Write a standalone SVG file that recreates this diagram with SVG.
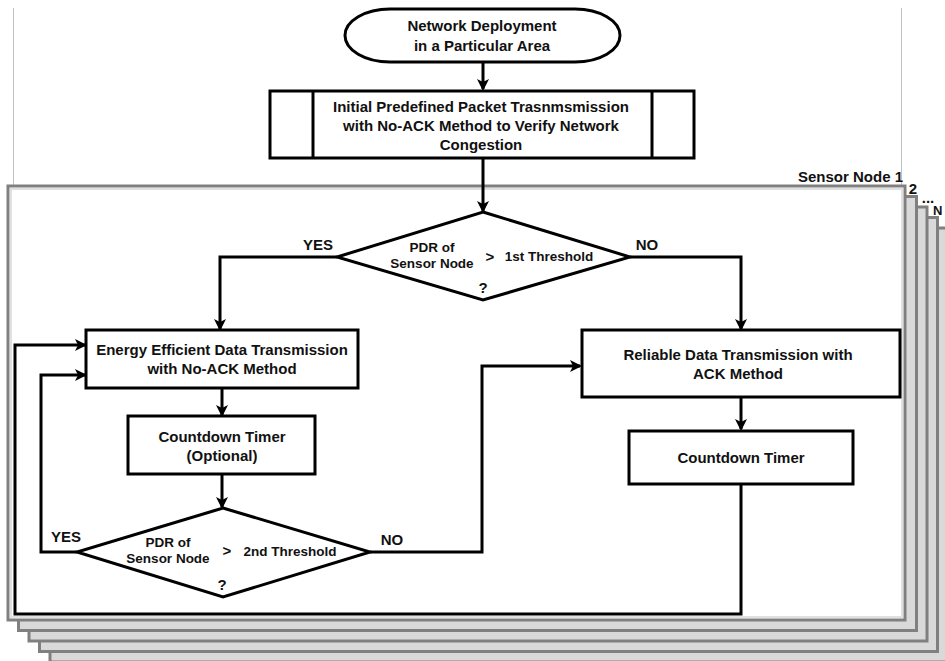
<svg xmlns="http://www.w3.org/2000/svg" width="945" height="661" viewBox="0 0 945 661">
<style>
.t{font-family:"Liberation Sans",Arial,sans-serif;font-weight:bold;font-size:15px;fill:#111;text-anchor:middle}
.s{font-size:13.5px}
.box{fill:#fff;stroke:#000;stroke-width:3}
.stack{fill:#d9d9d9;stroke:#808080;stroke-width:3}
.con{fill:none;stroke:#000;stroke-width:3}
.guide{stroke:#c0c0c0;stroke-width:1}
</style>
<defs>
<marker id="ah" markerWidth="12" markerHeight="12" refX="10" refY="6" orient="auto" markerUnits="userSpaceOnUse">
<path d="M0,0 L12,6 L0,12 L3,6 z" fill="#000"/>
</marker>
</defs>
<rect width="945" height="661" fill="#fff"/>
<g id="guides">
<line class="guide" x1="13.5" y1="8" x2="13.5" y2="186"/>
<line class="guide" x1="901.5" y1="8" x2="901.5" y2="186"/>
</g>
<g id="stack">
<rect class="stack" x="50" y="228" width="898" height="434"/>
<rect class="stack" x="39.5" y="217.5" width="898" height="434"/>
<rect class="stack" x="29" y="207" width="898" height="434"/>
<rect class="stack" x="18.5" y="196.5" width="898" height="434"/>
<rect x="8" y="186" width="897" height="434" fill="#fff" stroke="#808080" stroke-width="3"/>
<rect x="11" y="189" width="891" height="428" fill="none" stroke="#e0e0e0" stroke-width="2"/>
<text class="t" x="903" y="182" style="text-anchor:end">Sensor Node 1</text>
<text class="t" x="913" y="194">2</text>
<text class="t" x="928" y="203">...</text>
<text class="t" x="933" y="215" style="text-anchor:start;font-size:13px">N</text>
</g>
<g id="connectors">
<line class="con" x1="483" y1="62" x2="483" y2="89" marker-end="url(#ah)"/>
<line class="con" x1="483" y1="159" x2="483" y2="211" marker-end="url(#ah)"/>
<polyline class="con" points="337,257 220,257 220,329" marker-end="url(#ah)"/>
<polyline class="con" points="630,257 741,257 741,329" marker-end="url(#ah)"/>
<line class="con" x1="222" y1="388" x2="222" y2="415" marker-end="url(#ah)"/>
<line class="con" x1="222" y1="474" x2="222" y2="507" marker-end="url(#ah)"/>
<polyline class="con" points="77,552 41,552 41,375 85,375" marker-end="url(#ah)"/>
<polyline class="con" points="370,552 482,552 482,366 580,366" marker-end="url(#ah)"/>
<line class="con" x1="741" y1="397" x2="741" y2="429" marker-end="url(#ah)"/>
<polyline class="con" points="741,484 741,614 15,614 15,345 85,345" marker-end="url(#ah)"/>
<text class="t" x="318" y="250">YES</text>
<text class="t" x="647" y="250">NO</text>
<text class="t" x="66" y="542">YES</text>
<text class="t" x="392" y="545">NO</text>
</g>
<g id="start">
<rect class="box" x="345" y="9" width="275" height="53" rx="45" ry="26.5"/>
<text class="t" x="482" y="31">Network Deployment</text>
<text class="t" x="482" y="51">in a Particular Area</text>
</g>
<g id="initial">
<rect class="box" x="270" y="91" width="424" height="67"/>
<line class="con" x1="313" y1="91" x2="313" y2="158"/>
<line class="con" x1="652" y1="91" x2="652" y2="158"/>
<text class="t" x="481" y="112">Initial Predefined Packet Trasnmsmission</text>
<text class="t" x="481" y="131">with No-ACK Method to Verify Network</text>
<text class="t" x="481" y="150">Congestion</text>
</g>
<g id="decision1">
<polygon class="box" points="483,212 630,257 483,300 337,257"/>
<text class="t s" x="432" y="252">PDR of</text>
<text class="t s" x="432" y="268">Sensor Node</text>
<text class="t" x="490" y="262">&gt;</text>
<text class="t s" x="549" y="261">1st Threshold</text>
<text class="t" x="483" y="293">?</text>
</g>
<g id="energy">
<rect class="box" x="86" y="330" width="272" height="58"/>
<text class="t" x="222" y="355">Energy Efficient Data Transmission</text>
<text class="t" x="222" y="374">with No-ACK Method</text>
</g>
<g id="timer1">
<rect class="box" x="128" y="416" width="187" height="58"/>
<text class="t" x="222" y="442">Countdown Timer</text>
<text class="t" x="222" y="461">(Optional)</text>
</g>
<g id="decision2">
<polygon class="box" points="223,508 370,552 223,597 77,552"/>
<text class="t s" x="168" y="547">PDR of</text>
<text class="t s" x="168" y="563">Sensor Node</text>
<text class="t" x="227" y="556">&gt;</text>
<text class="t s" x="290" y="556">2nd Threshold</text>
<text class="t" x="222" y="590">?</text>
</g>
<g id="reliable">
<rect class="box" x="582" y="330" width="318" height="67"/>
<text class="t" x="738" y="360">Reliable Data Transmission with</text>
<text class="t" x="738" y="379">ACK Method</text>
</g>
<g id="timer2">
<rect class="box" x="629" y="431" width="224" height="53"/>
<text class="t" x="741" y="463">Countdown Timer</text>
</g>
</svg>
